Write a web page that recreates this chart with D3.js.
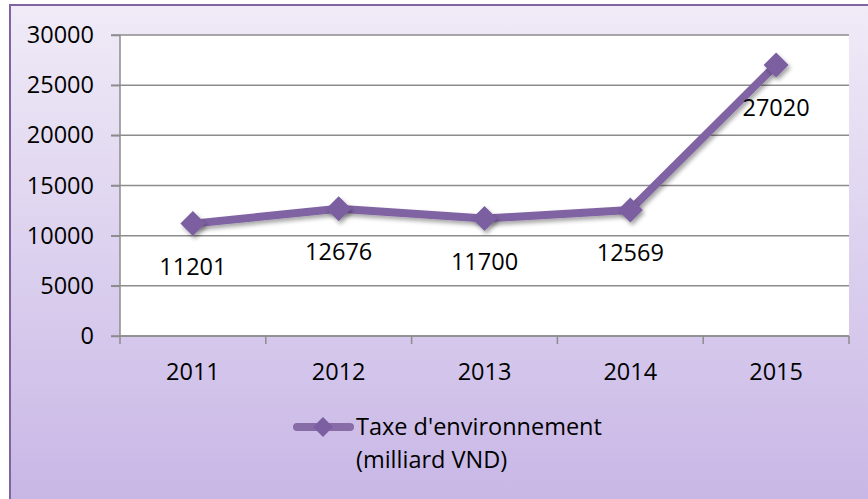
<!DOCTYPE html>
<html lang="fr">
<head>
  <meta charset="UTF-8">
  <title>Taxe d'environnement</title>
  <script src="https://d3js.org/d3.v7.min.js"></script>
  <style>
    body { margin: 0; background: #fff; }
    svg { display: block; }
    .axis text { font-family: "Open Sans", sans-serif; font-size: 23.5px; fill: #000; }
    .lbl { font-family: "Open Sans", sans-serif; font-size: 23.5px; fill: #000; }
  </style>
</head>
<body>
  <svg width="868" height="499"></svg>
  <script>
    const years = ["2011", "2012", "2013", "2014", "2015"];
    const taxValues = [11201, 12676, 11700, 12569, 27020];
    const yTicks = [0, 5000, 10000, 15000, 20000, 25000, 30000];
    const seriesName = ["Taxe d'environnement", "(milliard VND)"];

    const svg = d3.select("svg");
    const defs = svg.append("defs");

    const grad = defs.append("linearGradient")
      .attr("id", "bg").attr("x1", 0).attr("y1", 0).attr("x2", 0).attr("y2", 1);
    grad.append("stop").attr("offset", "0%").attr("stop-color", "#f0ebf7");
    grad.append("stop").attr("offset", "100%").attr("stop-color", "#c6b4e5");

    const shadow = defs.append("filter").attr("id", "shadow")
      .attr("x", "-20%").attr("y", "-20%").attr("width", "140%").attr("height", "140%");
    shadow.append("feDropShadow")
      .attr("dx", 2).attr("dy", 3).attr("stdDeviation", 2)
      .attr("flood-color", "#000").attr("flood-opacity", 0.35);

    // frame
    svg.append("rect")
      .attr("x", 10).attr("y", 5).attr("width", 880).attr("height", 520)
      .attr("fill", "url(#bg)")
      .attr("stroke", "#8064a2").attr("stroke-width", 2);

    const plotL = 120, plotR = 849, plotT = 35, plotB = 336;

    const x = d3.scaleBand().domain(years).range([plotL, plotR]);
    const y = d3.scaleLinear().domain([0, 30000]).range([plotB, plotT]);

    svg.append("rect")
      .attr("x", plotL).attr("y", plotT)
      .attr("width", plotR - plotL).attr("height", plotB - plotT)
      .attr("fill", "#fff");

    // gridlines
    svg.append("g")
      .selectAll("line")
      .data(yTicks)
      .join("line")
      .attr("x1", plotL - 9).attr("x2", plotR)
      .attr("y1", d => y(d)).attr("y2", d => y(d))
      .attr("stroke", "#8c8c8c").attr("stroke-width", 1.5);

    // y axis
    const yAxis = svg.append("g")
      .attr("class", "axis")
      .attr("transform", `translate(${plotL},0)`)
      .call(d3.axisLeft(y).tickValues(yTicks).tickSize(9).tickPadding(17).tickFormat(d3.format("d")));
    yAxis.selectAll("line, path").attr("stroke", "#8c8c8c").attr("stroke-width", 1.5);
    yAxis.select(".domain").attr("d", `M0,${plotT}V${plotB}`);

    // x axis, ticks at category boundaries
    const xAxis = svg.append("g")
      .attr("class", "axis")
      .attr("transform", `translate(0,${plotB})`);
    xAxis.append("line")
      .attr("x1", plotL).attr("x2", plotR)
      .attr("stroke", "#8c8c8c").attr("stroke-width", 1.5);
    const bounds = years.map(d => x(d)).concat([plotR]);
    xAxis.selectAll(".tk")
      .data(bounds)
      .join("line")
      .attr("class", "tk")
      .attr("x1", d => d).attr("x2", d => d)
      .attr("y1", 0).attr("y2", 8)
      .attr("stroke", "#8c8c8c").attr("stroke-width", 1.5);
    xAxis.selectAll("text")
      .data(years)
      .join("text")
      .attr("x", d => x(d) + x.bandwidth() / 2)
      .attr("y", 36)
      .attr("dy", "0.35em")
      .attr("text-anchor", "middle")
      .text(d => d);

    const cx = d => x(d) + x.bandwidth() / 2;

    // line
    const line = d3.line()
      .x((d, i) => cx(years[i]))
      .y(d => y(d));

    svg.append("path")
      .datum(taxValues)
      .attr("d", line)
      .attr("fill", "none")
      .attr("stroke", "#8064a2")
      .attr("stroke-width", 8)
      .attr("stroke-linejoin", "round")
      .attr("filter", "url(#shadow)");

    const diamond = r => `M0,${-r}L${r},0L0,${r}L${-r},0Z`;

    svg.append("g")
      .selectAll("path")
      .data(taxValues)
      .join("path")
      .attr("transform", (d, i) => `translate(${cx(years[i])},${y(d)})`)
      .attr("d", diamond(12.5))
      .attr("fill", "#7b5fa0")
      .attr("filter", "url(#shadow)");

    // data labels
    svg.append("g")
      .selectAll("text")
      .data(taxValues)
      .join("text")
      .attr("class", "lbl")
      .attr("x", (d, i) => cx(years[i]))
      .attr("y", d => y(d) + 43)
      .attr("dy", "0.35em")
      .attr("text-anchor", "middle")
      .text(d => d);

    // legend
    const lg = svg.append("g").attr("transform", "translate(0,427)");
    lg.append("line")
      .attr("x1", 297).attr("x2", 350)
      .attr("stroke", "#8064a2").attr("stroke-width", 8)
      .attr("stroke-linecap", "round")
      .attr("opacity", 0.9);
    lg.append("path")
      .attr("transform", "translate(323,0)")
      .attr("d", diamond(10))
      .attr("fill", "#7b5fa0");
    lg.selectAll("text")
      .data(seriesName)
      .join("text")
      .attr("class", "lbl")
      .attr("x", 356)
      .attr("y", (d, i) => i * 33)
      .attr("dy", "0.35em")
      .text(d => d);
  </script>
</body>
</html>
